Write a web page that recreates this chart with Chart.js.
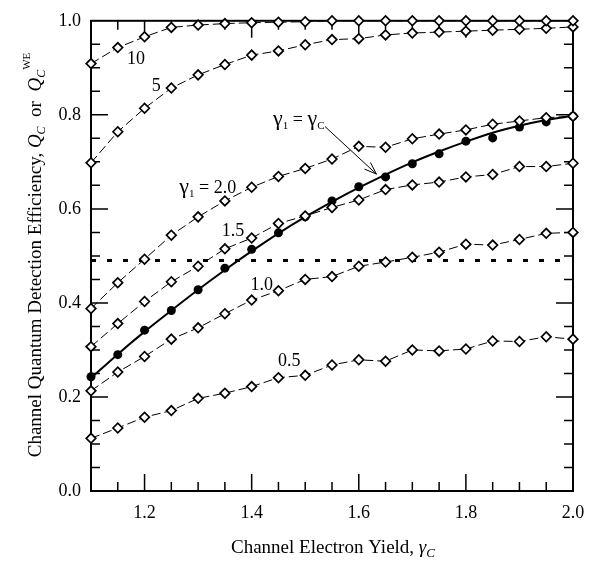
<!DOCTYPE html>
<html>
<head>
<meta charset="utf-8">
<script src="https://cdn.jsdelivr.net/npm/chart.js@4.4.1/dist/chart.umd.min.js"></script>
<style>
  html, body { margin: 0; padding: 0; background: #fff; }
  #wrap { width: 597px; height: 562px; position: relative; }
</style>
</head>
<body>
<div id="wrap"><canvas id="grafico"></canvas></div>
<script>
// valores (rendimento de eletrons do canal, eixo x)
const yieldC = [1.1, 1.15, 1.2, 1.25, 1.3, 1.35, 1.4, 1.45, 1.5, 1.55, 1.6, 1.65, 1.7, 1.75, 1.8, 1.85, 1.9, 1.95, 2.0];

const qGamma10 = [0.909, 0.943, 0.966, 0.986, 0.991, 0.994, 0.996, 0.997, 0.998, 1.0, 1.0, 1.0, 1.0, 1.0, 1.0, 1.0, 1.0, 1.0, 1.0];
const qGamma5 = [0.698, 0.764, 0.814, 0.857, 0.885, 0.907, 0.927, 0.936, 0.949, 0.960, 0.962, 0.970, 0.974, 0.976, 0.978, 0.980, 0.982, 0.984, 0.987];
const qGamma20 = [0.388, 0.443, 0.493, 0.544, 0.583, 0.617, 0.646, 0.669, 0.686, 0.706, 0.733, 0.731, 0.749, 0.759, 0.768, 0.780, 0.787, 0.794, 0.797];
const qGamma15 = [0.307, 0.356, 0.403, 0.445, 0.478, 0.515, 0.538, 0.569, 0.585, 0.603, 0.619, 0.641, 0.651, 0.657, 0.668, 0.673, 0.690, 0.690, 0.697];
const qGamma10b = [0.213, 0.253, 0.286, 0.323, 0.347, 0.377, 0.406, 0.426, 0.450, 0.456, 0.478, 0.487, 0.497, 0.508, 0.525, 0.523, 0.535, 0.548, 0.550];
const qGamma05 = [0.112, 0.134, 0.157, 0.171, 0.197, 0.208, 0.222, 0.241, 0.246, 0.268, 0.279, 0.276, 0.300, 0.298, 0.302, 0.319, 0.318, 0.328, 0.323];

// gamma1 = gammaC: pontos cheios e curva continua
const qPontosWE = [0.243, 0.290, 0.342, 0.384, 0.428, 0.474, 0.514, 0.549, 0.583, 0.617, 0.647, 0.668, 0.696, 0.717, 0.744, 0.751, 0.774, 0.785, 0.797];
const qCurvaWE = [0.240, 0.291, 0.339, 0.384, 0.428, 0.470, 0.510, 0.548, 0.583, 0.615, 0.645, 0.673, 0.699, 0.722, 0.743, 0.762, 0.777, 0.789, 0.798];

const nivelTracejado = 0.49;
const xTracejado = [1.1, 1.98];

const ticksX = [1.2, 1.4, 1.6, 1.8, 2.0];
const ticksY = [0.0, 0.2, 0.4, 0.6, 0.8, 1.0];

const FONTE = '"Liberation Serif", "Times New Roman", serif';

function pares(xs, ys) {
  return xs.map((x, i) => ({ x: x, y: ys[i] }));
}

function serieDiamante(valores) {
  return {
    data: pares(yieldC, valores),
    showLine: true,
    borderColor: "#000",
    borderWidth: 1,
    borderDash: [9, 4],
    pointStyle: "rectRot",
    pointRadius: 4.8,
    pointBorderWidth: 1.7,
    pointBackgroundColor: "#fff",
    pointBorderColor: "#000",
    clip: false,
  };
}

// texto com partes em italico / subscrito / sobrescrito
function escreverRico(ctx, partes, cx, base, tam) {
  let larguras = partes.map((p) => {
    ctx.font = (p.i ? "italic " : "") + Math.round(tam * (p.s || 1)) + "px " + FONTE;
    return ctx.measureText(p.t).width;
  });
  let total = larguras.reduce((a, b) => a + b, 0);
  let x = cx - total / 2;
  ctx.textAlign = "left";
  ctx.textBaseline = "alphabetic";
  partes.forEach((p, i) => {
    ctx.font = (p.i ? "italic " : "") + Math.round(tam * (p.s || 1)) + "px " + FONTE;
    ctx.fillText(p.t, x, base + (p.dy || 0));
    x += larguras[i];
  });
}

const molduraPlugin = {
  id: "moldura",
  beforeDatasetsDraw(chart) {
    const ctx = chart.ctx;
    const a = chart.chartArea;
    const sx = chart.scales.x;
    const sy = chart.scales.y;
    ctx.save();
    ctx.strokeStyle = "#000";
    ctx.lineWidth = 1.5;
    ctx.beginPath();
    for (let k = 115; k < 200; k += 5) {
      const px = sx.getPixelForValue(k / 100);
      const len = k % 20 === 0 ? 17 : 9;
      ctx.moveTo(px, a.bottom); ctx.lineTo(px, a.bottom - len);
      ctx.moveTo(px, a.top); ctx.lineTo(px, a.top + len);
    }
    for (let k = 5; k < 100; k += 5) {
      const py = sy.getPixelForValue(k / 100);
      const len = k % 20 === 0 ? 17 : 9;
      ctx.moveTo(a.left, py); ctx.lineTo(a.left + len, py);
      ctx.moveTo(a.right, py); ctx.lineTo(a.right - len, py);
    }
    ctx.stroke();
    ctx.lineWidth = 2;
    ctx.strokeRect(a.left, a.top, a.right - a.left, a.bottom - a.top);
    ctx.restore();
  },
  afterDraw(chart) {
    const ctx = chart.ctx;
    const sx = chart.scales.x;
    const sy = chart.scales.y;
    ctx.save();
    ctx.fillStyle = "#000";

    // titulo do eixo x
    escreverRico(ctx, [
      { t: "Channel Electron Yield, " },
      { t: "\u03b3", i: true },
      { t: "C", i: true, s: 0.7, dy: 4 },
    ], 333, 553, 19);

    // titulo do eixo y
    ctx.save();
    ctx.translate(35, 255);
    ctx.rotate(-Math.PI / 2);
    escreverRico(ctx, [
      { t: "Channel Quantum Detection Efficiency, " },
      { t: "Q", i: true },
      { t: "C", i: true, s: 0.65, dy: 4 },
      { t: "  or  " },
      { t: "Q", i: true },
      { t: "C", i: true, s: 0.65, dy: 4 },
      { t: "WE", s: 0.6, dy: -11 },
    ], 0, 6, 19);
    ctx.restore();

    // rotulos das curvas
    const rotulo = (partes, xv, yv) =>
      escreverRico(ctx, partes, sx.getPixelForValue(xv), sy.getPixelForValue(yv) + 6, 18);
    rotulo([{ t: "10" }], 1.184, 0.921);
    rotulo([{ t: "5" }], 1.222, 0.864);
    rotulo([{ t: "\u03b3", s: 1.2 }, { t: "1", s: 0.6, dy: 4 }, { t: " = " }, { t: "\u03b3", s: 1.2 }, { t: "C", s: 0.6, dy: 4 }], 1.488, 0.791);
    rotulo([{ t: "\u03b3", s: 1.2 }, { t: "1", s: 0.6, dy: 4 }, { t: " = 2.0" }], 1.318, 0.647);
    rotulo([{ t: "1.5" }], 1.365, 0.555);
    rotulo([{ t: "1.0" }], 1.419, 0.441);
    rotulo([{ t: "0.5" }], 1.470, 0.278);

    // seta para a curva gamma1 = gammaC
    const x0 = sx.getPixelForValue(1.537), y0 = sy.getPixelForValue(0.775);
    const x1 = sx.getPixelForValue(1.633), y1 = sy.getPixelForValue(0.674);
    const ang = Math.atan2(y1 - y0, x1 - x0);
    ctx.strokeStyle = "#000";
    ctx.lineWidth = 1;
    ctx.beginPath();
    ctx.moveTo(x0, y0); ctx.lineTo(x1, y1);
    ctx.moveTo(x1 - 13 * Math.cos(ang - 0.35), y1 - 13 * Math.sin(ang - 0.35));
    ctx.lineTo(x1, y1);
    ctx.lineTo(x1 - 13 * Math.cos(ang + 0.35), y1 - 13 * Math.sin(ang + 0.35));
    ctx.stroke();
    ctx.restore();
  },
};

new Chart(document.getElementById("grafico"), {
  type: "scatter",
  data: {
    datasets: [
      serieDiamante(qGamma10),
      serieDiamante(qGamma5),
      serieDiamante(qGamma20),
      serieDiamante(qGamma15),
      serieDiamante(qGamma10b),
      serieDiamante(qGamma05),
      {
        data: pares(yieldC, qPontosWE),
        showLine: false,
        pointStyle: "circle",
        pointRadius: 4.5,
        pointBackgroundColor: "#000",
        pointBorderColor: "#000",
        pointBorderWidth: 0,
        clip: false,
      },
      {
        data: pares(yieldC, qCurvaWE),
        showLine: true,
        borderColor: "#000",
        borderWidth: 2,
        tension: 0.4,
        cubicInterpolationMode: "monotone",
        pointRadius: 0,
        clip: false,
      },
      {
        data: xTracejado.map((x) => ({ x: x, y: nivelTracejado })),
        showLine: true,
        borderColor: "#000",
        borderWidth: 3,
        borderDash: [5, 11],
        borderCapStyle: "butt",
        pointRadius: 0,
      },
    ],
  },
  options: {
    responsive: true,
    maintainAspectRatio: false,
    animation: false,
    devicePixelRatio: 1,
    layout: { padding: { top: 12, right: 24, left: 0, bottom: 0 } },
    plugins: {
      legend: { display: false },
      tooltip: { enabled: false },
    },
    scales: {
      x: {
        type: "linear",
        min: 1.1,
        max: 2.0,
        afterBuildTicks: (s) => { s.ticks = ticksX.map((v) => ({ value: v })); },
        afterFit: (s) => { s.height = 71; },
        grid: { display: false, drawTicks: false },
        border: { display: false },
        ticks: {
          color: "#000",
          font: { family: FONTE, size: 18 },
          padding: 11,
          maxRotation: 0,
          autoSkip: false,
          callback: (v) => Number(v).toFixed(1),
        },
      },
      y: {
        type: "linear",
        min: 0,
        max: 1.0,
        afterBuildTicks: (s) => { s.ticks = ticksY.map((v) => ({ value: v })); },
        afterFit: (s) => { s.width = 91; },
        grid: { display: false, drawTicks: false },
        border: { display: false },
        ticks: {
          color: "#000",
          font: { family: FONTE, size: 18 },
          padding: 10,
          callback: (v) => Number(v).toFixed(1),
        },
      },
    },
  },
  plugins: [molduraPlugin],
});
</script>
</body>
</html>
